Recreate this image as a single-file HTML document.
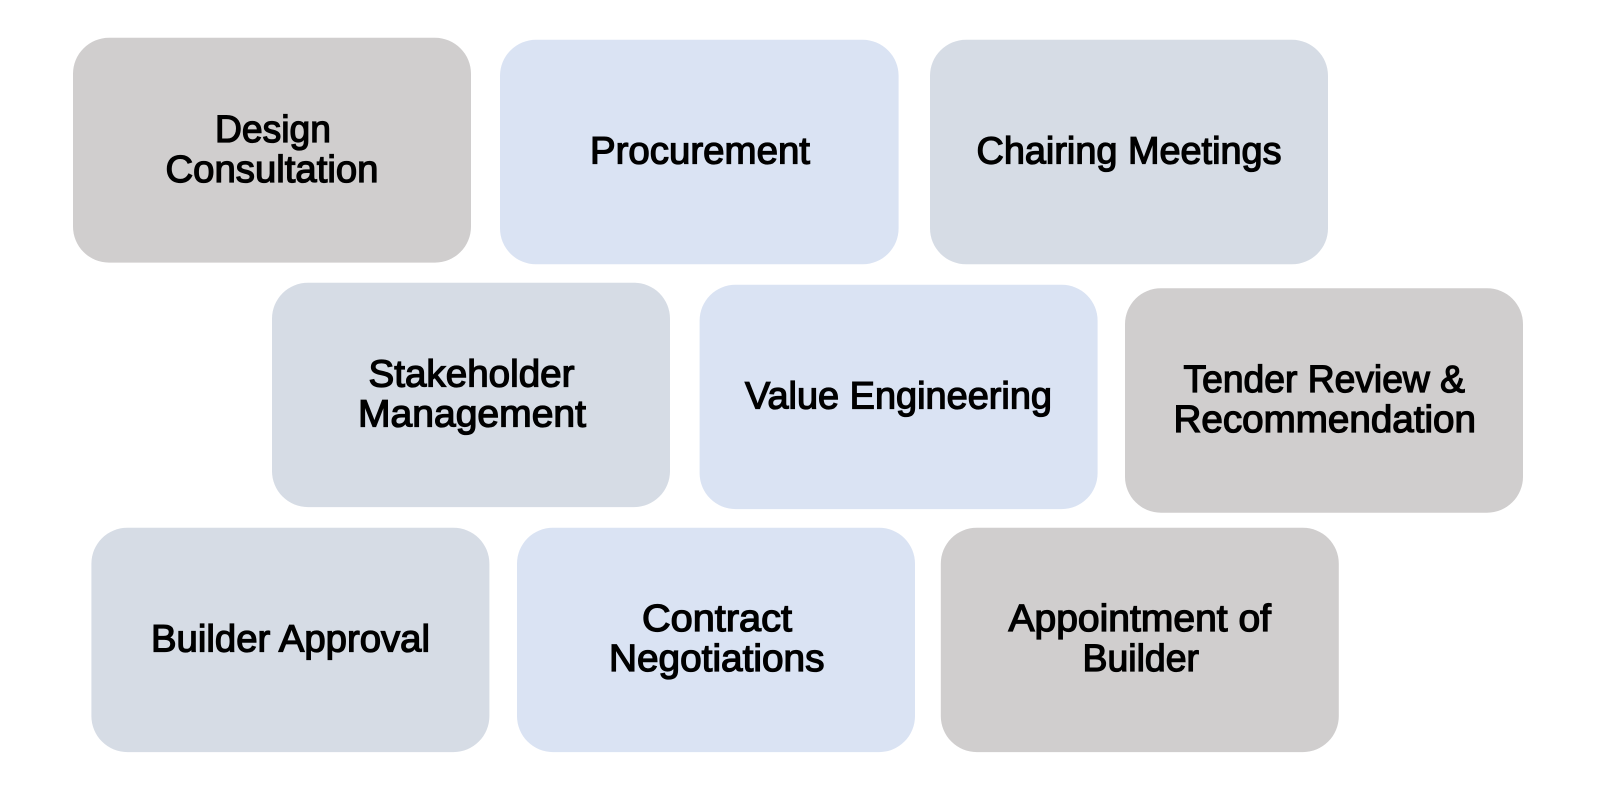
<!DOCTYPE html>
<html><head><meta charset="utf-8"><style>
html,body{margin:0;padding:0;background:#fff;width:1600px;height:807px;overflow:hidden}
svg{display:block}
text{font-family:"Liberation Sans",sans-serif;font-size:38px;fill:#000;stroke:#000;stroke-width:1.3px}
</style></head><body>
<svg width="1600" height="807" viewBox="0 0 1600 807" xmlns="http://www.w3.org/2000/svg">
<rect width="1600" height="807" fill="#fff"/>
<rect x="73" y="37.8" width="398" height="224.8" rx="36" fill="#D0CECE"/>
<rect x="500" y="39.8" width="398.6" height="224.5" rx="36" fill="#DAE3F3"/>
<rect x="930" y="39.8" width="398" height="224.5" rx="36" fill="#D6DCE5"/>
<rect x="272" y="282.7" width="398" height="224.4" rx="36" fill="#D6DCE5"/>
<rect x="699.6" y="284.7" width="398" height="224.4" rx="36" fill="#DAE3F3"/>
<rect x="1125" y="288.2" width="398" height="224.5" rx="36" fill="#D0CECE"/>
<rect x="91.4" y="527.7" width="398" height="224.4" rx="36" fill="#D6DCE5"/>
<rect x="517" y="527.7" width="398" height="224.4" rx="36" fill="#DAE3F3"/>
<rect x="940.8" y="527.7" width="398" height="224.4" rx="36" fill="#D0CECE"/>
<text x="215" y="142" textLength="116" lengthAdjust="spacingAndGlyphs">Design</text>
<text x="165.5" y="182" textLength="213" lengthAdjust="spacingAndGlyphs">Consultation</text>
<text x="590" y="163.3" textLength="220" lengthAdjust="spacingAndGlyphs">Procurement</text>
<text x="976.5" y="163.3" textLength="305" lengthAdjust="spacingAndGlyphs">Chairing Meetings</text>
<text x="368.5" y="386.6" textLength="206" lengthAdjust="spacingAndGlyphs">Stakeholder</text>
<text x="358" y="426.6" textLength="228" lengthAdjust="spacingAndGlyphs">Management</text>
<text x="745" y="408.5" textLength="307" lengthAdjust="spacingAndGlyphs">Value Engineering</text>
<text x="1183.5" y="392" textLength="281.5" lengthAdjust="spacingAndGlyphs">Tender Review &amp;</text>
<text x="1173.5" y="432" textLength="302.5" lengthAdjust="spacingAndGlyphs">Recommendation</text>
<text x="151" y="651.4" textLength="279" lengthAdjust="spacingAndGlyphs">Builder Approval</text>
<text x="642" y="631.2" textLength="150" lengthAdjust="spacingAndGlyphs">Contract</text>
<text x="609" y="671.2" textLength="215.5" lengthAdjust="spacingAndGlyphs">Negotiations</text>
<text x="1008.5" y="631.2" textLength="262.5" lengthAdjust="spacingAndGlyphs">Appointment of</text>
<text x="1082.5" y="671.2" textLength="116.5" lengthAdjust="spacingAndGlyphs">Builder</text>
</svg>
</body></html>
